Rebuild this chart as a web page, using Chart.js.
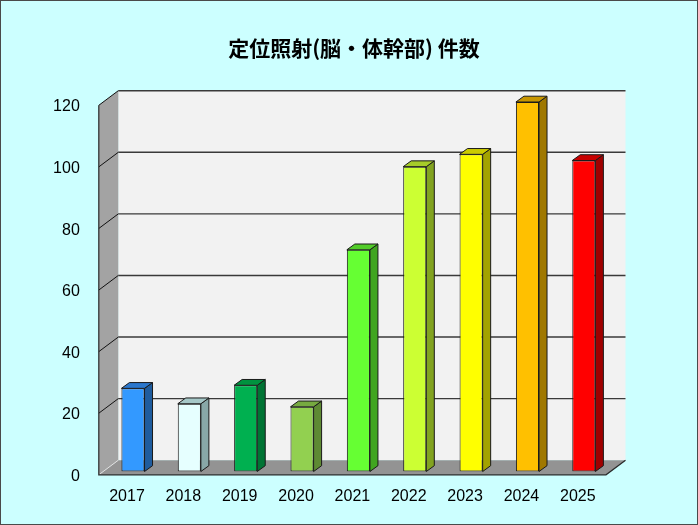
<!DOCTYPE html>
<html>
<head>
<meta charset="utf-8">
<script src="https://cdn.jsdelivr.net/npm/chart.js@4/dist/chart.umd.min.js"></script>
<style>
  html, body { margin: 0; padding: 0; background: #CCFFFF; }
  canvas { display: block; }
</style>
</head>
<body>
<canvas id="c" width="698" height="525"></canvas>
<script>
// ---- data ----
const years = ['2017', '2018', '2019', '2020', '2021', '2022', '2023', '2024', '2025'];
const counts = [27, 22, 28, 21, 72, 99, 103, 120, 101];
const titleText = '定位照射(脳・体幹部) 件数';
const yMin = 0, yMax = 120, yStep = 20;

// ---- styles ----
const frontColors = ['#3399FF', '#E6FFFF', '#00B050', '#92D050', '#66FF33', '#CCFF33', '#FFFF00', '#FFC000', '#FF0000'];
const topColors   = ['#2C77CC', '#A6C8C8', '#00923F', '#76AA40', '#52CC29', '#A6CC29', '#CCCC00', '#C89600', '#C80000'];
const sideColors  = ['#1F5C9E', '#88A8A8', '#007434', '#5E8A33', '#40A520', '#82A320', '#A3A300', '#A07800', '#A00000'];

// 3D offsets relative to the bar plane (chart area)
const FX = -6, FY = 3.3;     // front plane
const BX = 13.5, BY = -11.3; // back wall plane
const SX = 8, SY = -5.8;     // bar depth

const threeD = {
  id: 'threeD',
  beforeDraw(chart) {
    const ctx = chart.ctx;
    ctx.save();
    ctx.fillStyle = '#CCFFFF';
    ctx.fillRect(0, 0, chart.width, chart.height);
    ctx.restore();
  },
  beforeDatasetsDraw(chart) {
    const ctx = chart.ctx;
    const a = chart.chartArea;
    const ys = chart.scales.y;
    const y0 = ys.getPixelForValue(yMin);
    const yT = ys.getPixelForValue(yMax);
    ctx.save();
    // back wall
    ctx.fillStyle = '#F2F2F2';
    ctx.fillRect(a.left + BX, yT + BY, a.right - a.left, y0 - yT);
    // left wall
    ctx.fillStyle = '#A3A3A3';
    ctx.beginPath();
    ctx.moveTo(a.left + FX, yT + FY);
    ctx.lineTo(a.left + BX, yT + BY);
    ctx.lineTo(a.left + BX, y0 + BY);
    ctx.lineTo(a.left + FX, y0 + FY);
    ctx.closePath();
    ctx.fill();
    // floor
    ctx.fillStyle = '#939393';
    ctx.beginPath();
    ctx.moveTo(a.left + FX, y0 + FY);
    ctx.lineTo(a.right + FX, y0 + FY);
    ctx.lineTo(a.right + BX, y0 + BY);
    ctx.lineTo(a.left + BX, y0 + BY);
    ctx.closePath();
    ctx.fill();
    // gridlines
    for (let v = yMin + yStep; v <= yMax; v += yStep) {
      const py = ys.getPixelForValue(v);
      ctx.strokeStyle = '#3A3A3A';
      ctx.lineWidth = 1.4;
      ctx.beginPath();
      ctx.moveTo(a.left + BX, py + BY);
      ctx.lineTo(a.right + BX, py + BY);
      ctx.stroke();
      ctx.strokeStyle = '#111111';
      ctx.lineWidth = 1;
      ctx.beginPath();
      ctx.moveTo(a.left + FX, py + FY);
      ctx.lineTo(a.left + BX, py + BY);
      ctx.stroke();
    }
    // zero diagonal on floor (light)
    ctx.strokeStyle = '#E0E0E0';
    ctx.lineWidth = 1;
    ctx.beginPath();
    ctx.moveTo(a.left + FX, y0 + FY);
    ctx.lineTo(a.left + BX, y0 + BY);
    ctx.stroke();
    // edges
    ctx.strokeStyle = '#2A2A2A';
    ctx.lineWidth = 1.2;
    ctx.beginPath();
    ctx.moveTo(a.left + FX, yT + FY);
    ctx.lineTo(a.left + FX, y0 + FY);
    ctx.lineTo(a.right + FX, y0 + FY);
    ctx.lineTo(a.right + BX, y0 + BY);
    ctx.stroke();
    ctx.restore();
  },
  afterDatasetsDraw(chart) {
    const ctx = chart.ctx;
    const meta = chart.getDatasetMeta(0);
    ctx.save();
    ctx.strokeStyle = '#1A1A1A';
    ctx.lineWidth = 1;
    ctx.lineJoin = 'round';
    meta.data.forEach((bar, i) => {
      const p = bar.getProps(['x', 'y', 'base', 'width'], true);
      const l = p.x - p.width / 2, r = p.x + p.width / 2;
      const t = Math.min(p.y, p.base), b = Math.max(p.y, p.base);
      // side
      ctx.fillStyle = sideColors[i];
      ctx.beginPath();
      ctx.moveTo(r, t);
      ctx.lineTo(r + SX, t + SY);
      ctx.lineTo(r + SX, b + SY);
      ctx.lineTo(r, b);
      ctx.closePath();
      ctx.fill();
      ctx.stroke();
      // top
      ctx.fillStyle = topColors[i];
      ctx.beginPath();
      ctx.moveTo(l, t);
      ctx.lineTo(l + SX, t + SY);
      ctx.lineTo(r + SX, t + SY);
      ctx.lineTo(r, t);
      ctx.closePath();
      ctx.fill();
      ctx.stroke();
    });
    ctx.restore();
  },
  afterDraw(chart) {
    const ctx = chart.ctx;
    ctx.save();
    ctx.strokeStyle = '#4A4A4A';
    ctx.lineWidth = 1;
    ctx.strokeRect(0.5, 0.5, chart.width - 1, chart.height - 1);
    ctx.restore();
  }
};

new Chart(document.getElementById('c'), {
  type: 'bar',
  data: {
    labels: years,
    datasets: [{
      data: counts,
      backgroundColor: frontColors,
      borderColor: '#1A1A1A',
      borderWidth: 1,
      borderSkipped: false,
      categoryPercentage: 1,
      barPercentage: 0.41
    }]
  },
  options: {
    responsive: false,
    animation: false,
    devicePixelRatio: 1,
    layout: { padding: { left: 10, right: 0, top: 0, bottom: 0 } },
    plugins: {
      legend: { display: false },
      tooltip: { enabled: false },
      title: {
        display: true,
        text: titleText,
        color: '#000000',
        font: { family: "'Noto Sans CJK JP', sans-serif", size: 21, weight: 'bold', lineHeight: 1.2 },
        padding: { top: 35.9, bottom: 40.9 }
      }
    },
    scales: {
      x: {
        grid: { display: false, drawTicks: false },
        border: { display: false },
        ticks: {
          color: '#000000',
          font: { family: "'Liberation Sans', Arial, sans-serif", size: 16 },
          padding: 15,
          labelOffset: -6,
          maxRotation: 0,
          autoSkip: false
        },
        afterFit(scale) { scale.height = 53.5; }
      },
      y: {
        min: yMin,
        max: yMax,
        grid: { display: false, drawTicks: false },
        border: { display: false },
        ticks: {
          stepSize: yStep,
          color: '#000000',
          font: { family: "'Liberation Sans', Arial, sans-serif", size: 16 },
          padding: 25,
          labelOffset: 5
        },
        afterFit(scale) { scale.width = 94.8; }
      },
      yRight: {
        position: 'right',
        display: true,
        min: yMin,
        max: yMax,
        grid: { display: false, drawTicks: false },
        border: { display: false },
        ticks: { display: false },
        afterFit(scale) { scale.width = 86; }
      }
    }
  },
  plugins: [threeD]
});
</script>
</body>
</html>
